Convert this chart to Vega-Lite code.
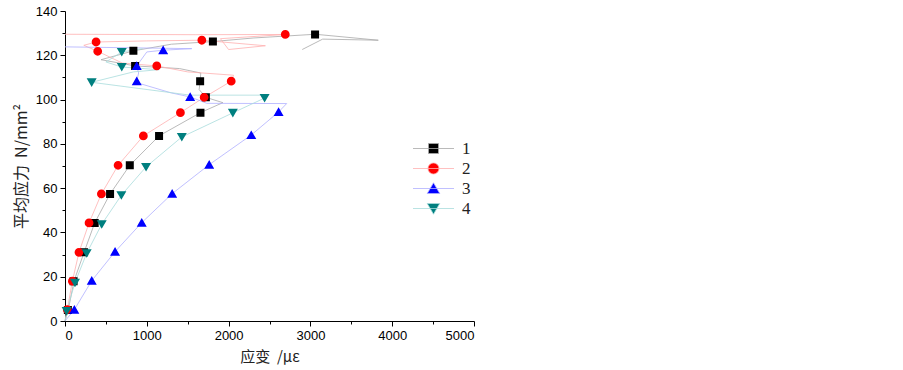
{
  "$schema": "https://vega.github.io/schema/vega-lite/v6.json",
  "autosize": {"type": "none"},
  "padding": {"left": 65, "top": 11, "right": 429, "bottom": 49},
  "width": 409,
  "height": 310,
  "background": "white",
  "config": {
    "view": {"stroke": null},
    "axis": {
      "grid": false,
      "domainColor": "black",
      "domainWidth": 1,
      "tickColor": "black",
      "tickWidth": 1,
      "labelFont": "Liberation Sans",
      "labelFontSize": 13,
      "labelColor": "black",
      "titleFont": "Noto Sans CJK SC",
      "titleFontSize": 15,
      "titleFontWeight": "normal",
      "titleColor": "#222"
    }
  },
  "datasets": {
    "lines": [
      {"s": "1", "i": 0, "x": 0, "y": 0}, {"s": "1", "i": 1, "x": 40, "y": 5}, {"s": "1", "i": 2, "x": 110, "y": 18}, {"s": "1", "i": 3, "x": 233, "y": 31}, {"s": "1", "i": 4, "x": 363, "y": 44.3}, {"s": "1", "i": 5, "x": 551, "y": 57.4}, {"s": "1", "i": 6, "x": 792, "y": 70.3}, {"s": "1", "i": 7, "x": 1150, "y": 83.6}, {"s": "1", "i": 8, "x": 1656, "y": 94.1}, {"s": "1", "i": 9, "x": 1930, "y": 98.6}, {"s": "1", "i": 10, "x": 1722, "y": 101}, {"s": "1", "i": 11, "x": 1640, "y": 104.5}, {"s": "1", "i": 12, "x": 1652, "y": 108.3}, {"s": "1", "i": 13, "x": 1660, "y": 112}, {"s": "1", "i": 14, "x": 1400, "y": 114}, {"s": "1", "i": 15, "x": 857, "y": 115.2}, {"s": "1", "i": 16, "x": 440, "y": 118}, {"s": "1", "i": 17, "x": 836, "y": 122}, {"s": "1", "i": 18, "x": 1300, "y": 125}, {"s": "1", "i": 19, "x": 1808, "y": 126.2}, {"s": "1", "i": 20, "x": 2300, "y": 127.8}, {"s": "1", "i": 21, "x": 3060, "y": 129.5}, {"s": "1", "i": 22, "x": 3830, "y": 126.8}, {"s": "1", "i": 23, "x": 3150, "y": 127.3}, {"s": "1", "i": 24, "x": 2900, "y": 122.6},
      {"s": "2", "i": 0, "x": 0, "y": 0}, {"s": "2", "i": 1, "x": 28, "y": 5}, {"s": "2", "i": 2, "x": 90, "y": 18}, {"s": "2", "i": 3, "x": 171, "y": 31}, {"s": "2", "i": 4, "x": 294, "y": 44.3}, {"s": "2", "i": 5, "x": 445, "y": 57.4}, {"s": "2", "i": 6, "x": 649, "y": 70.3}, {"s": "2", "i": 7, "x": 958, "y": 83.6}, {"s": "2", "i": 8, "x": 1411, "y": 94.1}, {"s": "2", "i": 9, "x": 1701, "y": 101}, {"s": "2", "i": 10, "x": 2032, "y": 108.3}, {"s": "2", "i": 11, "x": 2060, "y": 111}, {"s": "2", "i": 12, "x": 1500, "y": 112.5}, {"s": "2", "i": 13, "x": 1122, "y": 115.2}, {"s": "2", "i": 14, "x": 700, "y": 116.5}, {"s": "2", "i": 15, "x": 400, "y": 121.8}, {"s": "2", "i": 16, "x": 230, "y": 124.5}, {"s": "2", "i": 17, "x": 380, "y": 126}, {"s": "2", "i": 18, "x": 1000, "y": 126.5}, {"s": "2", "i": 19, "x": 1673, "y": 126.8}, {"s": "2", "i": 20, "x": 2450, "y": 124.3}, {"s": "2", "i": 21, "x": 2000, "y": 122.6}, {"s": "2", "i": 22, "x": 1900, "y": 127.5}, {"s": "2", "i": 23, "x": 2693, "y": 129.4}, {"s": "2", "i": 24, "x": 1600, "y": 129.3}, {"s": "2", "i": 25, "x": 0, "y": 129.5},
      {"s": "3", "i": 0, "x": 0, "y": 0}, {"s": "3", "i": 1, "x": 114, "y": 5.1}, {"s": "3", "i": 2, "x": 327, "y": 18.2}, {"s": "3", "i": 3, "x": 612, "y": 31.3}, {"s": "3", "i": 4, "x": 938, "y": 44.4}, {"s": "3", "i": 5, "x": 1310, "y": 57.5}, {"s": "3", "i": 6, "x": 1763, "y": 70.6}, {"s": "3", "i": 7, "x": 2277, "y": 84}, {"s": "3", "i": 8, "x": 2611, "y": 94.4}, {"s": "3", "i": 9, "x": 2710, "y": 98.2}, {"s": "3", "i": 10, "x": 1734, "y": 98.3}, {"s": "3", "i": 11, "x": 1530, "y": 101.2}, {"s": "3", "i": 12, "x": 1300, "y": 103}, {"s": "3", "i": 13, "x": 918, "y": 107.2}, {"s": "3", "i": 14, "x": 877, "y": 108.3}, {"s": "3", "i": 15, "x": 900, "y": 112}, {"s": "3", "i": 16, "x": 877, "y": 115.2}, {"s": "3", "i": 17, "x": 1000, "y": 121.5}, {"s": "3", "i": 18, "x": 1200, "y": 122.3}, {"s": "3", "i": 19, "x": 1550, "y": 123}, {"s": "3", "i": 20, "x": 0, "y": 123.8},
      {"s": "4", "i": 0, "x": 0, "y": 0}, {"s": "4", "i": 1, "x": 20, "y": 4.5}, {"s": "4", "i": 2, "x": 122, "y": 17.3}, {"s": "4", "i": 3, "x": 265, "y": 30.6}, {"s": "4", "i": 4, "x": 449, "y": 43.7}, {"s": "4", "i": 5, "x": 689, "y": 56.8}, {"s": "4", "i": 6, "x": 991, "y": 69.6}, {"s": "4", "i": 7, "x": 1428, "y": 83.1}, {"s": "4", "i": 8, "x": 2052, "y": 94}, {"s": "4", "i": 9, "x": 2440, "y": 100.7}, {"s": "4", "i": 10, "x": 2470, "y": 102}, {"s": "4", "i": 11, "x": 1530, "y": 102}, {"s": "4", "i": 12, "x": 326, "y": 107.8}, {"s": "4", "i": 13, "x": 836, "y": 112.5}, {"s": "4", "i": 14, "x": 1150, "y": 113.5}, {"s": "4", "i": 15, "x": 694, "y": 114.7}, {"s": "4", "i": 16, "x": 500, "y": 117}, {"s": "4", "i": 17, "x": 694, "y": 121.5}, {"s": "4", "i": 18, "x": 950, "y": 123}
    ],
    "pts": [
      {"s": "1", "x": 35, "y": 5}, {"s": "1", "x": 105, "y": 18}, {"s": "1", "x": 233, "y": 31}, {"s": "1", "x": 363, "y": 44.3}, {"s": "1", "x": 551, "y": 57.4}, {"s": "1", "x": 792, "y": 70.3}, {"s": "1", "x": 1150, "y": 83.6}, {"s": "1", "x": 1656, "y": 94.1}, {"s": "1", "x": 1722, "y": 101}, {"s": "1", "x": 1652, "y": 108.3}, {"s": "1", "x": 857, "y": 115.2}, {"s": "1", "x": 836, "y": 122}, {"s": "1", "x": 1808, "y": 126.2}, {"s": "1", "x": 3057, "y": 129.4},
      {"s": "2", "x": 28, "y": 5.1}, {"s": "2", "x": 90, "y": 18}, {"s": "2", "x": 171, "y": 31}, {"s": "2", "x": 294, "y": 44.3}, {"s": "2", "x": 445, "y": 57.4}, {"s": "2", "x": 649, "y": 70.3}, {"s": "2", "x": 958, "y": 83.6}, {"s": "2", "x": 1411, "y": 94.1}, {"s": "2", "x": 1701, "y": 101}, {"s": "2", "x": 2032, "y": 108.3}, {"s": "2", "x": 1122, "y": 115.2}, {"s": "2", "x": 400, "y": 121.8}, {"s": "2", "x": 380, "y": 126}, {"s": "2", "x": 1673, "y": 126.8}, {"s": "2", "x": 2693, "y": 129.4},
      {"s": "3", "x": 114, "y": 5.1}, {"s": "3", "x": 327, "y": 18.2}, {"s": "3", "x": 612, "y": 31.3}, {"s": "3", "x": 938, "y": 44.4}, {"s": "3", "x": 1310, "y": 57.5}, {"s": "3", "x": 1763, "y": 70.6}, {"s": "3", "x": 2277, "y": 84}, {"s": "3", "x": 2611, "y": 94.4}, {"s": "3", "x": 1530, "y": 101.2}, {"s": "3", "x": 877, "y": 108.3}, {"s": "3", "x": 877, "y": 115.2}, {"s": "3", "x": 1200, "y": 122.3},
      {"s": "4", "x": 20, "y": 4.5}, {"s": "4", "x": 122, "y": 17.3}, {"s": "4", "x": 265, "y": 30.6}, {"s": "4", "x": 449, "y": 43.7}, {"s": "4", "x": 689, "y": 56.8}, {"s": "4", "x": 991, "y": 69.6}, {"s": "4", "x": 1428, "y": 83.1}, {"s": "4", "x": 2052, "y": 94}, {"s": "4", "x": 2440, "y": 100.7}, {"s": "4", "x": 326, "y": 107.8}, {"s": "4", "x": 694, "y": 114.7}, {"s": "4", "x": 694, "y": 121.5}
    ]
  },
  "encoding": {
    "x": {
      "field": "x", "type": "quantitative",
      "scale": {"domain": [0, 5000], "nice": false},
      "axis": {
        "title": "应变\u00a0\u00a0/με",
        "format": "d",
        "values": [0, 500, 1000, 1500, 2000, 2500, 3000, 3500, 4000, 4500, 5000],
        "labelExpr": "datum.value % 1000 === 0 ? datum.label : ''",
        "labelOverlap": false,
        "tickSize": {"condition": {"test": "datum.value % 1000 === 0", "value": 5}, "value": 3},
        "labelPadding": 3,
        "titlePadding": 7
      }
    },
    "y": {
      "field": "y", "type": "quantitative",
      "scale": {"domain": [0, 140], "nice": false},
      "axis": {
        "title": "平均应力\u00a0\u00a0N/mm²",
        "titleFontSize": 16,
        "values": [0, 10, 20, 30, 40, 50, 60, 70, 80, 90, 100, 110, 120, 130, 140],
        "labelExpr": "datum.value % 20 === 0 ? datum.label : ''",
        "labelOverlap": false,
        "tickSize": {"condition": {"test": "datum.value % 20 === 0", "value": 5}, "value": 3},
        "labelPadding": 3,
        "titlePadding": 6
      }
    }
  },
  "layer": [
    {
      "data": {"name": "lines"},
      "mark": {"type": "line", "strokeWidth": 0.8, "interpolate": "linear"},
      "encoding": {
        "stroke": {
          "field": "s", "type": "nominal",
          "scale": {"domain": ["1", "2", "3", "4"], "range": ["#a8a8a8", "#ffb0b0", "#b0b0ff", "#a8dcdc"]}
        },
        "order": {"field": "i", "type": "quantitative"}
      }
    },
    {
      "data": {"name": "pts"},
      "mark": {"type": "point", "filled": true, "opacity": 1, "size": 64, "strokeWidth": 0},
      "encoding": {
        "stroke": {
          "field": "s", "type": "nominal",
          "legend": {"title": null, "orient": "none", "legendX": 360, "legendY": 129, "padding": 0, "rowPadding": 2, "labelOffset": 20, "labelFont": "Liberation Serif", "labelFontSize": 17, "labelColor": "#222", "symbolStrokeWidth": 0.8}
        },
        "color": {
          "field": "s", "type": "nominal",
          "scale": {"domain": ["1", "2", "3", "4"], "range": ["#000000", "#ff0000", "#0000ff", "#007f7f"]},
          "legend": {"title": null, "orient": "none", "legendX": 360, "legendY": 129, "padding": 0, "rowPadding": 2, "labelOffset": 20, "labelFont": "Liberation Serif", "labelFontSize": 17, "labelColor": "#222", "symbolStrokeWidth": 0.8}
        },
        "shape": {
          "field": "s", "type": "nominal",
          "scale": {"domain": ["1", "2", "3", "4"], "range": [
            "M-4.1,0H4.1M-1,-1H1V1H-1Z",
            "M-4.1,0H4.1M1.1,0A1.1,1.1 0 1,1 -1.1,0A1.1,1.1 0 1,1 1.1,0Z",
            "M-4.1,0H4.1M0,-1.15L1.25,1H-1.25Z",
            "M-4.1,0H4.1M0,1.15L1.25,-1H-1.25Z"
          ]},
          "legend": {"title": null, "orient": "none", "legendX": 360, "legendY": 129, "padding": 0, "rowPadding": 2, "labelOffset": 20, "labelFont": "Liberation Serif", "labelFontSize": 17, "labelColor": "#222", "symbolStrokeWidth": 0.8}
        }
      }
    }
  ]
}
